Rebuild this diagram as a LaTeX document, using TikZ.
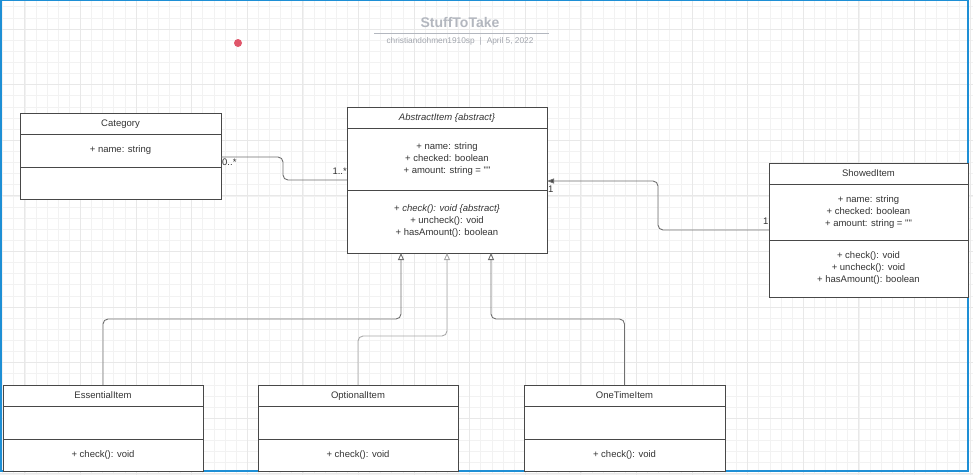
\documentclass[tikz,border=0pt]{standalone}
\usepackage{fontspec}
\setmainfont{Liberation Sans}[Ligatures=TeXOff]
\usetikzlibrary{arrows.meta}
\definecolor{gridminor}{HTML}{F2F2F2}
\definecolor{gridmajor}{HTML}{E8E8E8}
\definecolor{frameblue}{HTML}{1E8FD5}
\definecolor{boxline}{HTML}{484848}
\definecolor{txt}{HTML}{333333}
\definecolor{connc}{HTML}{707070}
\definecolor{connlight}{HTML}{A8A8A8}
\definecolor{titlegrey}{HTML}{B3B7BF}
\definecolor{subgrey}{HTML}{A2A6AE}
\definecolor{reddot}{HTML}{E0566A}
\begin{document}
\begin{tikzpicture}[x=1pt,y=-1pt,
  umlbox/.style={draw=boxline, fill=white, line width=1pt, inner sep=0pt, outer sep=0pt,
    align=center, anchor=north west, text=txt,
    font=\fontsize{9.5}{12}\selectfont},
  hdr/.style={umlbox, text height=7pt, text depth=2pt},
  multlabel/.style={inner sep=0pt, text=txt, font=\fontsize{9.5}{12}\selectfont},
  assoc/.style={draw=connc, line width=0.9pt, rounded corners=5pt},
  gen/.style={draw=connc, line width=0.9pt, rounded corners=5pt,
    -{Triangle[open, length=7pt, width=6pt, fill=white]}},
  navig/.style={draw=connc, line width=0.9pt, rounded corners=5pt,
    -{Triangle[length=7pt, width=5pt, fill=boxline]}}
]
\useasboundingbox (0,0) rectangle (973,475);
\fill[white] (0,0) rectangle (973,475);
% grid
\begin{scope}
\clip (0,0) rectangle (973,475);
\foreach \i in {-3,...,87} \draw[gridminor, line width=0.8pt] ({24.9+11.12*\i},0) -- ++(0,475);
\foreach \i in {-3,...,43} \draw[gridminor, line width=0.8pt] (0,{29.1+11.12*\i}) -- ++(973,0);
\foreach \i in {-1,...,18} \draw[gridmajor, line width=0.9pt] ({24.9+55.6*\i},0) -- ++(0,475);
\foreach \i in {-1,...,9} \draw[gridmajor, line width=0.9pt] (0,{29.1+55.6*\i}) -- ++(973,0);
\end{scope}
% frame
\draw[frameblue, line width=1.1pt] (1,0.6) rectangle (968,471);
% title
\node[inner sep=0pt, text=titlegrey, font=\bfseries\fontsize{14}{16}\selectfont] (title) at (460,22) {StuffToTake};
\draw[titlegrey, line width=1pt] (374,33) -- (549,33);
\node[inner sep=0pt, text=subgrey, font=\fontsize{8.3}{9}\selectfont] (subtitle) at (460,41.5) {christiandohmen1910sp\hspace{5pt}|\hspace{5pt}April 5, 2022};
\node[circle, fill=reddot, minimum size=8pt, inner sep=0pt] (dot) at (238,43) {};
% Category
\node[hdr, minimum width=201, minimum height=21] (catH) at (20,113) {Category};
\node[umlbox, minimum width=201, minimum height=33] (catA) at (catH.south west) {+ name: string};
\node[umlbox, minimum width=201, minimum height=32] (catM) at (catA.south west) {};
% AbstractItem
\node[hdr, minimum width=200, minimum height=21] (absH) at (347,107) {\textit{AbstractItem \{abstract\}}};
\node[umlbox, minimum width=200, minimum height=62] (absA) at (absH.south west) {+ name: string\\+ checked: boolean\\+ amount: string = ""};
\node[umlbox, minimum width=200, minimum height=63] (absM) at (absA.south west) {+ \textit{check(): void \{abstract\}}\\+ uncheck(): void\\+ hasAmount(): boolean};
% ShowedItem
\node[hdr, minimum width=199, minimum height=21] (shH) at (769,163) {ShowedItem};
\node[umlbox, minimum width=199, minimum height=56] (shA) at (shH.south west) {+ name: string\\+ checked: boolean\\+ amount: string = ""};
\node[umlbox, minimum width=199, minimum height=57] (shM) at (shA.south west) {+ check(): void\\+ uncheck(): void\\+ hasAmount(): boolean};
% EssentialItem
\node[hdr, minimum width=200, minimum height=21] (essH) at (3,385) {EssentialItem};
\node[umlbox, minimum width=200, minimum height=33] (essA) at (essH.south west) {};
\node[hdr, minimum width=200, minimum height=32] (essM) at (essA.south west) {+ check(): void};
% OptionalItem
\node[hdr, minimum width=200, minimum height=21] (optH) at (258,385) {OptionalItem};
\node[umlbox, minimum width=200, minimum height=33] (optA) at (optH.south west) {};
\node[hdr, minimum width=200, minimum height=32] (optM) at (optA.south west) {+ check(): void};
% OneTimeItem
\node[hdr, minimum width=201, minimum height=21] (oneH) at (524,385) {OneTimeItem};
\node[umlbox, minimum width=201, minimum height=33] (oneA) at (oneH.south west) {};
\node[hdr, minimum width=201, minimum height=32] (oneM) at (oneA.south west) {+ check(): void};
% Category -- AbstractItem
\draw[assoc] (catA.east |- 0,157) -- (283,157) -- (283,180) -- (absA.west |- 0,180);
\node[multlabel, anchor=west] (m1) at (222,162.5) {0..*};
\node[multlabel, anchor=east] (m2) at (347,171) {1..*};
% ShowedItem -> AbstractItem
\draw[navig] (shA.west |- 0,230) -- (658,230) -- (658,181) -- (absA.east |- 0,181);
\node[multlabel, anchor=west] (m3) at (548,189.5) {1};
\node[multlabel, anchor=east] (m4) at (768.5,221) {1};
% generalizations
\draw[gen] (essH.north) -- (essH.north |- 0,319) -- (401,319) -- (absM.south -| 401,0);
\draw[gen, draw=connlight] (optH.north) -- (optH.north |- 0,336) -- (447,336) -- (absM.south -| 447,0);
\draw[gen] (oneH.north) -- (oneH.north |- 0,319) -- (491,319) -- (absM.south -| 491,0);
\end{tikzpicture}
\end{document}
